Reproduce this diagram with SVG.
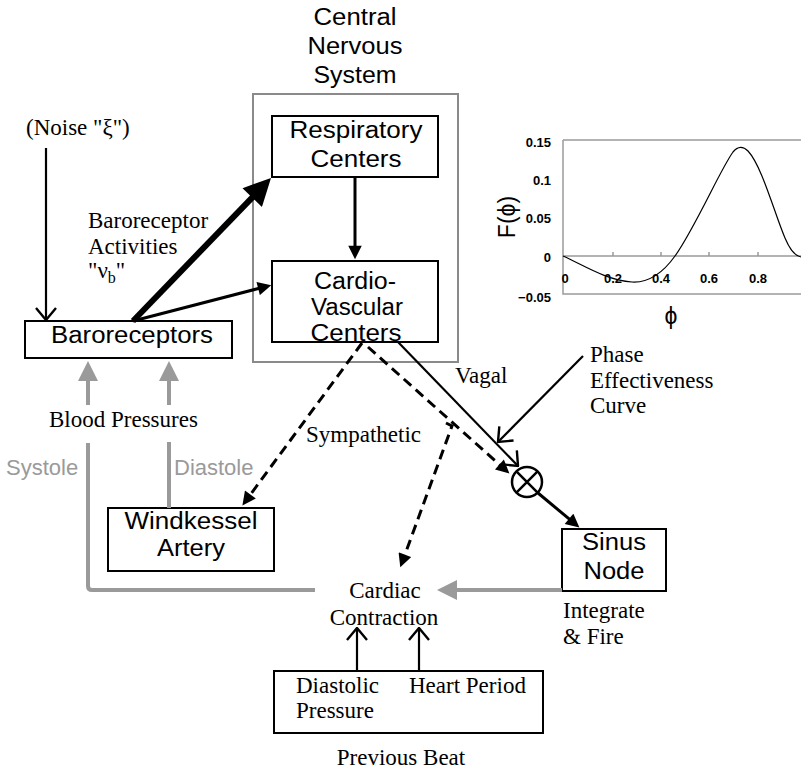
<svg xmlns="http://www.w3.org/2000/svg" width="801" height="772" viewBox="0 0 801 772">
<style>
.box{fill:#fff;stroke:#000;stroke-width:2}
.sans{font-family:"Liberation Sans",Arial,Helvetica,sans-serif;font-size:23px;fill:#000}
.serif{font-family:"Liberation Serif","Times New Roman",serif;font-size:23px;fill:#000}
.gtext{font-family:"Liberation Sans",Arial,sans-serif;font-size:22px;fill:#9a9a9a}
.mid{text-anchor:middle}
.ln{fill:none;stroke:#000;stroke-width:3}
.dash{fill:none;stroke:#000;stroke-width:3;stroke-dasharray:10 6}
.thin{fill:none;stroke:#000;stroke-width:2.2}
.gray{fill:none;stroke:#9a9a9a;stroke-width:4}
.axis{fill:none;stroke:#9a9a9a;stroke-width:1.5}
.tick{font-family:"Liberation Sans",Arial,sans-serif;font-size:13px;font-weight:bold;fill:#000}
</style>
<defs>
<marker id="arr" viewBox="0 0 10 10" refX="5" refY="5" markerWidth="5" markerHeight="4.5" markerUnits="strokeWidth" orient="auto">
<path d="M0,0 L10,5 L0,10 z" fill="#000"/>
</marker>
<marker id="garr" viewBox="0 0 10 10" refX="5" refY="5" markerWidth="5" markerHeight="5" markerUnits="strokeWidth" orient="auto">
<path d="M0,0 L10,5 L0,10 z" fill="#9a9a9a"/>
</marker>
<marker id="open" viewBox="0 0 14 22" refX="13" refY="11" markerWidth="14" markerHeight="22" markerUnits="userSpaceOnUse" orient="auto">
<path d="M1,1 L13,11 L1,21" fill="none" stroke="#000" stroke-width="2.4"/>
</marker>
</defs>
<rect width="801" height="772" fill="#fff"/>

<g id="cns">
<rect x="253" y="94" width="205" height="268" fill="none" stroke="#8a8a8a" stroke-width="2"/>
<text class="sans mid" x="355" y="25" textLength="83" lengthAdjust="spacingAndGlyphs">Central</text>
<text class="sans mid" x="355" y="54" textLength="95" lengthAdjust="spacingAndGlyphs">Nervous</text>
<text class="sans mid" x="355" y="83" textLength="83" lengthAdjust="spacingAndGlyphs">System</text>
</g>

<g id="respiratory">
<rect class="box" x="272" y="116" width="166" height="61"/>
<text class="sans mid" x="356" y="138" textLength="133" lengthAdjust="spacingAndGlyphs">Respiratory</text>
<text class="sans mid" x="356" y="167" textLength="91" lengthAdjust="spacingAndGlyphs">Centers</text>
</g>

<g id="cardio">
<rect class="box" x="272" y="261" width="166" height="81"/>
<text class="sans mid" x="355" y="289" font-size="22" textLength="82" lengthAdjust="spacingAndGlyphs">Cardio-</text>
<text class="sans mid" x="357" y="315" font-size="22" textLength="92" lengthAdjust="spacingAndGlyphs">Vascular</text>
<text class="sans mid" x="356" y="341" font-size="22" textLength="91" lengthAdjust="spacingAndGlyphs">Centers</text>
</g>

<g id="baroreceptors">
<rect class="box" x="25" y="321" width="207" height="37"/>
<text class="sans mid" x="132" y="343" textLength="162" lengthAdjust="spacingAndGlyphs">Baroreceptors</text>
</g>

<g id="windkessel">
<rect class="box" x="108" y="508" width="166" height="63"/>
<text class="sans mid" x="191" y="529" textLength="133" lengthAdjust="spacingAndGlyphs">Windkessel</text>
<text class="sans mid" x="191" y="556" textLength="68" lengthAdjust="spacingAndGlyphs">Artery</text>
</g>

<g id="sinus">
<rect class="box" x="562" y="529" width="104" height="62"/>
<text class="sans mid" x="614" y="550" textLength="64" lengthAdjust="spacingAndGlyphs">Sinus</text>
<text class="sans mid" x="614" y="579" textLength="61" lengthAdjust="spacingAndGlyphs">Node</text>
</g>

<g id="multiplier">
<circle cx="527" cy="482" r="15" fill="#fff" stroke="#000" stroke-width="2.5"/>
<path d="M516.4,471.4 L537.6,492.6 M537.6,471.4 L516.4,492.6" stroke="#000" stroke-width="2.5"/>
</g>

<g id="previous-beat">
<rect class="box" x="274" y="671" width="269" height="62"/>
<text class="serif" x="296" y="693">Diastolic</text>
<text class="serif" x="296" y="718">Pressure</text>
<text class="serif" x="409" y="693">Heart Period</text>
<text class="serif mid" x="401" y="765">Previous Beat</text>
</g>

<g id="cardiac-contraction">
<text class="serif mid" x="385" y="598">Cardiac</text>
<text class="serif mid" x="384" y="625">Contraction</text>
</g>

<g id="noise">
<text class="serif" x="26" y="135">(Noise "ξ")</text>
</g>

<g id="phase-curve-label">
<text class="serif" x="590" y="362">Phase</text>
<text class="serif" x="590" y="388">Effectiveness</text>
<text class="serif" x="590" y="413">Curve</text>
</g>

<g id="graph">
<path class="axis" d="M563,140 H801 M563,140 V294 H801 M563,256 H801 M613,252 V256 M661,252 V256 M709,252 V256 M758,252 V256"/>
<path d="M563,256 C585,266 606,280 632,282 C650,283 665,270 675,256 C695,228 720,170 733,152 C738,146 743,146 748,151 C762,166 775,215 785,238 C790,250 795,256 801,257" fill="none" stroke="#000" stroke-width="1.2"/>
<text class="tick" x="551" y="147" text-anchor="end">0.15</text>
<text class="tick" x="551" y="185" text-anchor="end">0.1</text>
<text class="tick" x="551" y="223" text-anchor="end">0.05</text>
<text class="tick" x="551" y="262" text-anchor="end">0</text>
<text class="tick" x="551" y="302" text-anchor="end">−0.05</text>
<text class="tick mid" x="565" y="283">0</text>
<text class="tick mid" x="613" y="283">0.2</text>
<text class="tick mid" x="661" y="283">0.4</text>
<text class="tick mid" x="709" y="283">0.6</text>
<text class="tick mid" x="758" y="283">0.8</text>
<text class="sans mid" x="0" y="0" font-size="21" transform="translate(515,217) rotate(-90)">F(ϕ)</text>
<text class="sans mid" x="671" y="324" font-size="22">ϕ</text>
</g>

<g id="labels">
<text class="serif" x="88" y="228">Baroreceptor</text>
<text class="serif" x="88" y="254">Activities</text>
<text class="serif" x="88" y="278">"ν<tspan dy="5" font-size="16">b</tspan><tspan dy="-5">"</tspan></text>
<text class="serif" x="49" y="427" font-size="26">Blood Pressures</text>
<text class="gtext" x="6" y="475">Systole</text>
<text class="gtext" x="174" y="475">Diastole</text>
<text class="serif" x="306" y="442">Sympathetic</text>
<text class="serif" x="455" y="383">Vagal</text>
<text class="serif" x="563" y="618">Integrate</text>
<text class="serif" x="563" y="644">&amp; Fire</text>
</g>

<g id="connectors">
<line x1="133" y1="321" x2="261.6" y2="187.8" stroke="#000" stroke-width="6" marker-end="url(#arr)"/>
<line class="ln" x1="133" y1="321" x2="264.7" y2="286.9" marker-end="url(#arr)"/>
<line class="ln" x1="355" y1="178" x2="355" y2="252.5" marker-end="url(#arr)"/>
<line class="ln" x1="538" y1="493" x2="574.2" y2="523.2" marker-end="url(#arr)"/>
<line class="dash" x1="362" y1="343" x2="246.4" y2="500" marker-end="url(#arr)"/>
<line class="dash" x1="368" y1="347" x2="504.4" y2="469" marker-end="url(#arr)"/>
<path class="dash" d="M446,423 L452,426 L402.6,561" marker-end="url(#arr)"/>
<line class="gray" x1="562" y1="590" x2="447" y2="590" marker-end="url(#garr)"/>
<line class="gray" x1="88" y1="405" x2="88" y2="371" marker-end="url(#garr)"/>
<line class="gray" x1="169" y1="405" x2="169" y2="371" marker-end="url(#garr)"/>
<path class="gray" d="M88,443 V586 Q88,590 92,590 H315"/>
<line class="gray" x1="169" y1="442" x2="169" y2="508"/>
<line class="thin" x1="46" y1="148" x2="46" y2="320" marker-end="url(#open)"/>
<line class="thin" stroke-width="2.6" x1="398" y1="342" x2="518" y2="466" marker-end="url(#open)"/>
<line class="thin" stroke-width="2.6" x1="583" y1="356" x2="498" y2="442" marker-end="url(#open)"/>
<line class="thin" stroke-width="2.6" x1="357" y1="671" x2="357" y2="628" marker-end="url(#open)"/>
<line class="thin" stroke-width="2.6" x1="419" y1="671" x2="419" y2="628" marker-end="url(#open)"/>
</g>
</svg>
